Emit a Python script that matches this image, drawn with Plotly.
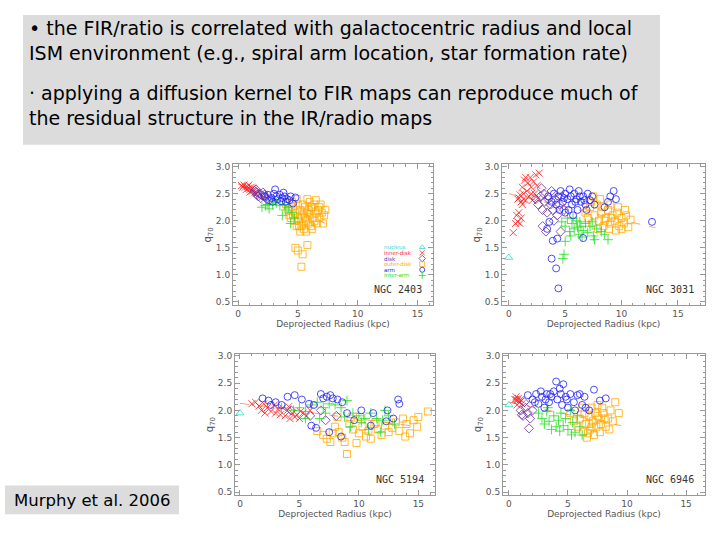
import plotly.graph_objects as go

# categories / legend
categories = ["nucleus", "inner-disk", "disk", "outer-disk", "arm", "inter-arm"]
cat_colors = ["#2fdcc4", "#ff1f1f", "#6b2fa3", "#ffaa00", "#2020ff", "#22dd22"]
cat_symbols = ["triangle-up-open", "x-thin-open", "diamond-open", "square-open", "circle-open", "cross-thin-open"]

galaxies = ["NGC 2403", "NGC 3031", "NGC 5194", "NGC 6946"]

# ---- NGC 2403 ----
ngc2403_inner = [(0.3, 2.65), (0.5, 2.66), (0.6, 2.62), (0.8, 2.63), (0.9, 2.6), (1.0, 2.58), (1.1, 2.62),
                 (1.2, 2.55), (1.3, 2.57), (1.4, 2.52), (0.7, 2.58), (1.0, 2.53), (0.4, 2.62), (1.5, 2.5),
                 (0.9, 2.66), (1.2, 2.6)]
ngc2403_disk = [(1.4, 2.55), (1.6, 2.52), (1.8, 2.5), (2.0, 2.47), (1.7, 2.45), (2.2, 2.48), (1.5, 2.58),
                (1.9, 2.42), (2.3, 2.44), (2.1, 2.52), (2.4, 2.4), (1.6, 2.48)]
ngc2403_arm = [(2.2, 2.45), (2.5, 2.48), (2.8, 2.42), (3.0, 2.5), (3.2, 2.45), (3.1, 2.58), (3.5, 2.48),
               (3.7, 2.42), (3.9, 2.45), (4.1, 2.4), (4.3, 2.38), (2.6, 2.38), (3.3, 2.4), (3.8, 2.52),
               (4.0, 2.35), (4.4, 2.45), (4.8, 2.43), (2.9, 2.35), (3.6, 2.36), (4.6, 2.32)]
ngc2403_inter = [(2.0, 2.25), (2.3, 2.28), (2.6, 2.22), (2.9, 2.3), (3.2, 2.33), (3.5, 2.28), (3.7, 2.1),
                 (3.9, 2.3), (4.2, 2.25), (4.5, 2.15), (4.7, 2.05), (4.4, 1.95), (3.0, 2.38), (4.0, 2.2),
                 (2.5, 2.3)]
ngc2403_outer = [(4.0, 2.3), (4.2, 2.2), (4.3, 2.1), (4.5, 2.35), (4.6, 2.25), (4.7, 2.0), (4.8, 2.15),
                 (4.9, 2.4), (5.0, 2.3), (5.0, 2.05), (5.1, 1.9), (5.2, 2.2), (5.3, 2.1), (5.4, 1.95),
                 (5.4, 2.3), (5.5, 1.85), (5.6, 2.05), (5.6, 2.25), (5.7, 1.8), (5.8, 2.15), (5.9, 1.95),
                 (6.0, 2.35), (6.0, 2.1), (6.1, 1.9), (6.2, 2.25), (6.3, 2.05), (6.4, 2.3), (6.5, 2.15),
                 (6.6, 1.95), (6.7, 2.2), (6.8, 2.05), (6.9, 2.3), (7.0, 2.15), (7.1, 1.95), (7.2, 2.1),
                 (6.5, 2.38), (5.8, 2.4), (5.2, 1.8), (4.9, 1.9), (6.2, 1.85), (5.5, 2.15), (4.4, 2.05),
                 (7.3, 2.2), (6.1, 2.25), (5.7, 2.0), (4.8, 1.5), (5.0, 1.45), (5.4, 1.38), (5.8, 1.55),
                 (5.3, 1.15), (5.1, 2.0), (5.9, 2.2), (6.4, 2.0), (4.6, 2.1), (5.3, 1.9), (6.8, 2.25)]
ngc2403_nucleus = []
ngc2403_fit = [(0.0, 2.68), (7.3, 1.95)]

# ---- NGC 3031 ----
ngc3031_nucleus = [(0.0, 1.32)]
ngc3031_inner = [(0.4, 1.78), (0.6, 1.95), (0.7, 2.1), (0.8, 1.98), (0.9, 2.15), (1.0, 1.95), (1.1, 2.05),
                 (0.9, 2.42), (1.0, 2.48), (1.2, 2.62), (1.3, 2.4), (1.4, 2.75), (1.5, 2.8), (1.6, 2.55),
                 (1.7, 2.7), (1.8, 2.45), (1.9, 2.8), (2.0, 2.62), (2.1, 2.38), (2.2, 2.72), (2.3, 2.5),
                 (2.4, 2.85), (2.5, 2.65), (1.1, 2.35), (1.3, 2.5), (2.6, 2.42), (2.7, 2.88), (1.5, 2.38),
                 (2.0, 2.5), (0.8, 2.4), (1.2, 2.3)]
ngc3031_disk = [(2.4, 2.4), (2.6, 2.3), (2.8, 2.45), (3.0, 2.2), (3.1, 2.5), (3.2, 2.35), (3.4, 2.15),
                (3.5, 2.4), (3.7, 2.3), (3.8, 2.55), (3.9, 2.2), (4.1, 2.4), (4.3, 2.1), (4.5, 2.3),
                (4.7, 2.45), (4.9, 2.2), (3.0, 1.9), (3.3, 1.8), (2.9, 2.6), (4.0, 2.0), (4.6, 1.8)]
ngc3031_arm = [(3.5, 2.45), (3.8, 2.35), (4.0, 2.5), (4.2, 2.3), (4.4, 2.45), (4.6, 2.55), (4.8, 2.35),
               (5.0, 2.5), (5.2, 2.4), (5.4, 2.58), (5.6, 2.3), (5.8, 2.5), (6.0, 2.4), (6.2, 2.55),
               (6.4, 2.35), (6.6, 2.45), (6.8, 2.3), (7.0, 2.5), (7.2, 2.38), (7.4, 2.45), (4.5, 2.2),
               (5.3, 2.2), (6.1, 2.2), (8.8, 2.35), (9.0, 2.45), (9.3, 2.55), (9.5, 2.4), (8.5, 2.25),
               (5.0, 2.15), (6.9, 2.2), (6.6, 1.68), (5.7, 2.1), (3.8, 1.3), (4.2, 1.12), (4.4, 0.75),
               (3.9, 1.63), (4.3, 1.67), (12.7, 1.98), (3.6, 1.98), (3.4, 1.85), (5.5, 2.45), (6.3, 2.45),
               (4.9, 2.42), (5.9, 2.35), (6.7, 2.38), (7.6, 2.3)]
ngc3031_inter = [(4.7, 1.98), (5.0, 1.9), (5.2, 2.05), (5.4, 1.8), (5.6, 1.95), (5.8, 1.85), (6.0, 2.0),
                 (6.2, 1.75), (6.4, 1.9), (6.6, 1.82), (6.8, 1.95), (7.0, 1.78), (7.2, 1.9), (7.5, 1.72),
                 (7.8, 1.85), (8.2, 1.8), (8.5, 1.75), (5.0, 1.62), (4.9, 1.38), (4.8, 1.3), (6.5, 1.7),
                 (7.6, 1.65), (8.8, 1.65), (5.5, 1.72), (6.1, 1.88), (5.7, 2.05), (6.3, 1.98), (7.4, 1.98)]
ngc3031_outer = [(6.8, 2.15), (7.0, 2.05), (7.2, 2.25), (7.4, 1.95), (7.6, 2.1), (7.8, 2.3), (8.0, 2.0),
                 (8.2, 2.15), (8.4, 1.9), (8.6, 2.05), (8.8, 2.2), (9.0, 1.95), (9.2, 2.1), (9.4, 2.0),
                 (9.6, 2.15), (9.8, 1.9), (10.0, 2.05), (10.2, 1.95), (10.4, 2.1), (10.6, 1.88),
                 (10.8, 2.02), (7.5, 2.45), (8.1, 2.4), (9.0, 2.3), (10.3, 2.2), (8.9, 1.85), (7.9, 1.85),
                 (9.5, 1.82), (10.0, 1.85), (7.3, 2.35), (8.3, 2.25), (9.7, 2.25), (8.5, 2.0), (9.1, 2.05)]
ngc3031_fit = [(0.0, 2.5), (13.0, 1.87)]

# ---- NGC 5194 ----
ngc5194_nucleus = [(0.0, 1.95)]
ngc5194_inner = [(1.0, 2.12), (1.3, 2.15), (1.6, 2.08), (1.8, 2.0), (2.0, 2.12), (2.3, 2.05), (2.6, 1.98),
                 (2.9, 2.1), (3.2, 2.02), (3.4, 1.92), (3.6, 2.05), (3.8, 1.9), (4.0, 2.0), (4.2, 1.85),
                 (4.4, 1.95), (4.6, 1.88), (4.8, 1.92), (5.0, 1.85), (5.3, 1.95), (5.6, 1.9), (5.9, 2.0),
                 (2.1, 1.95), (3.0, 1.95), (4.1, 2.07), (5.1, 1.98)]
ngc5194_disk = [(4.3, 2.0), (5.9, 1.9), (7.2, 1.82), (8.1, 1.9), (6.8, 2.0)]
ngc5194_arm = [(1.9, 2.22), (2.4, 2.18), (2.6, 2.1), (3.0, 2.15), (3.5, 2.1), (4.0, 2.25), (4.6, 2.28),
               (5.2, 2.2), (5.8, 2.12), (6.2, 2.1), (6.8, 2.3), (7.0, 2.22), (7.3, 2.25), (7.6, 2.28),
               (7.8, 2.22), (8.2, 2.2), (8.6, 2.15), (9.0, 1.95), (10.2, 2.0), (11.2, 1.95), (12.4, 2.0),
               (13.3, 2.2), (13.4, 2.12), (12.9, 1.85), (9.6, 1.82), (8.5, 1.52), (6.0, 1.72), (6.4, 1.68),
               (7.5, 1.6), (11.0, 1.72), (12.3, 1.8)]
ngc5194_inter = [(3.5, 2.05), (4.5, 2.0), (5.0, 2.05), (5.5, 1.98), (6.0, 2.1), (6.5, 2.15), (7.0, 2.05),
                 (7.5, 2.12), (8.0, 2.1), (8.5, 2.05), (9.0, 2.18), (9.5, 1.95), (10.0, 1.9), (10.5, 1.85),
                 (11.0, 1.95), (11.5, 1.85), (12.0, 1.82), (12.5, 1.9), (13.0, 1.75), (8.8, 1.88),
                 (9.3, 1.7), (10.8, 1.65), (11.8, 1.6), (7.2, 1.95), (6.7, 1.85), (10.2, 1.78), (12.2, 2.0),
                 (5.5, 1.85)]
ngc5194_outer = [(6.5, 1.62), (7.0, 1.55), (7.3, 1.48), (7.6, 1.42), (8.0, 1.7), (8.3, 1.6), (8.6, 1.5),
                 (8.8, 1.42), (9.0, 1.2), (9.2, 1.75), (9.5, 1.65), (9.8, 1.4), (10.0, 1.58), (10.3, 1.7),
                 (10.6, 1.52), (10.8, 1.62), (11.0, 1.48), (11.3, 1.75), (11.6, 1.65), (11.9, 1.55),
                 (12.2, 1.72), (12.5, 1.6), (12.8, 1.68), (13.1, 1.78), (13.4, 1.62), (13.7, 1.85),
                 (14.0, 1.75), (14.3, 1.58), (14.6, 1.82), (14.9, 1.7), (15.8, 1.98), (15.0, 1.88),
                 (13.9, 1.52), (7.8, 1.58), (9.3, 1.85), (8.2, 1.88), (10.1, 1.88), (11.4, 1.78)]
ngc5194_fit = [(0.0, 2.13), (15.0, 1.7)]

# ---- NGC 6946 ----
ngc6946_nucleus = [(0.0, 2.1)]
ngc6946_inner = [(0.5, 2.2), (0.6, 2.25), (0.7, 2.18), (0.8, 2.22), (0.9, 2.15), (1.0, 2.2), (0.7, 2.1),
                 (1.1, 2.12), (0.6, 2.2)]
ngc6946_disk = [(1.0, 2.0), (1.2, 1.9), (1.4, 2.05), (1.6, 1.95), (1.3, 2.15), (1.8, 1.85), (1.7, 1.67),
                (2.0, 2.0), (1.1, 1.92)]
ngc6946_arm = [(1.6, 2.28), (2.0, 2.2), (2.3, 2.3), (2.5, 2.12), (2.8, 2.25), (3.0, 2.05), (3.2, 2.3),
               (3.4, 2.15), (3.6, 2.25), (3.8, 2.35), (4.0, 2.53), (4.1, 2.2), (4.3, 2.4), (4.5, 2.1),
               (4.6, 2.48), (4.8, 2.25), (5.0, 2.05), (5.2, 2.3), (5.5, 2.15), (5.8, 2.28), (6.0, 2.3),
               (6.2, 2.1), (6.5, 2.05), (6.8, 2.0), (7.2, 2.38), (7.7, 2.18), (8.2, 2.22), (3.5, 2.3),
               (2.7, 2.35), (4.9, 2.2), (5.6, 2.0), (6.4, 2.25), (2.2, 2.15), (3.1, 2.2), (4.4, 2.3)]
ngc6946_inter = [(2.5, 1.95), (2.8, 1.85), (3.0, 1.75), (3.2, 1.98), (3.4, 1.8), (3.6, 1.65), (3.8, 1.9),
                 (4.0, 1.7), (4.2, 1.82), (4.4, 1.95), (4.6, 1.72), (4.8, 1.85), (5.0, 1.65), (5.2, 2.0),
                 (5.4, 1.78), (5.6, 1.6), (5.8, 1.9), (6.0, 1.7), (6.2, 1.55), (4.3, 1.62), (3.3, 2.05),
                 (5.3, 1.55)]
ngc6946_outer = [(5.2, 1.95), (5.5, 1.8), (5.8, 1.7), (6.0, 1.85), (6.2, 2.05), (6.3, 1.6), (6.5, 1.75),
                 (6.6, 1.5), (6.8, 1.9), (6.9, 1.65), (7.0, 2.05), (7.1, 1.8), (7.2, 1.55), (7.3, 1.95),
                 (7.4, 1.7), (7.5, 2.1), (7.6, 1.85), (7.7, 1.6), (7.8, 1.75), (8.0, 1.95), (8.2, 1.7),
                 (8.4, 1.85), (8.6, 2.0), (8.8, 1.8), (9.0, 2.15), (9.3, 1.95), (8.5, 1.65), (6.7, 1.58),
                 (7.9, 2.05), (6.4, 1.95), (7.0, 1.7), (7.5, 1.9), (8.1, 1.85), (6.8, 1.75)]
ngc6946_fit = [(0.0, 2.15), (9.5, 1.72)]

panel_data = [
    [ngc2403_nucleus, ngc2403_inner, ngc2403_disk, ngc2403_outer, ngc2403_arm, ngc2403_inter],
    [ngc3031_nucleus, ngc3031_inner, ngc3031_disk, ngc3031_outer, ngc3031_arm, ngc3031_inter],
    [ngc5194_nucleus, ngc5194_inner, ngc5194_disk, ngc5194_outer, ngc5194_arm, ngc5194_inter],
    [ngc6946_nucleus, ngc6946_inner, ngc6946_disk, ngc6946_outer, ngc6946_arm, ngc6946_inter],
]
panel_fits = [ngc2403_fit, ngc3031_fit, ngc5194_fit, ngc6946_fit]

# pixel boxes of each panel frame (left, right, top, bottom) and x ranges
W, H = 720, 540
boxes = [(233, 433, 163, 305), (502, 705, 163, 305), (235, 435, 354, 497), (503, 705, 354, 497)]
xranges = [[-0.42, 16.3], [-0.6, 17.4], [-0.42, 16.4], [-0.5, 16.6]]
yrange = [0.44, 3.04]

fig = go.Figure()

draw_order = [3, 1, 2, 5, 4, 0]
for p in range(4):
    ax = "" if p == 0 else str(p + 1)
    fx, fy = zip(*panel_fits[p])
    fig.add_trace(go.Scatter(x=fx, y=fy, mode="lines", xaxis="x" + ax, yaxis="y" + ax,
                             line=dict(color="#f4a484", width=1, dash="dash"), showlegend=False))
    for c in draw_order:
        pts = panel_data[p][c]
        if not pts:
            continue
        xs, ys = zip(*pts)
        fig.add_trace(go.Scatter(
            x=xs, y=ys, mode="markers", xaxis="x" + ax, yaxis="y" + ax, showlegend=False,
            marker=dict(symbol=cat_symbols[c], size=7, color=cat_colors[c],
                        line=dict(color=cat_colors[c], width=0.8))))

tick_font = dict(family="DejaVu Sans", size=9, color="#555")
for p, (l, r, t, b) in enumerate(boxes):
    ax = "" if p == 0 else str(p + 1)
    fig.layout["xaxis" + ax] = dict(
        domain=[l / W, r / W], range=xranges[p], anchor="y" + ax,
        showgrid=False, zeroline=False, showline=True, linecolor="#999", linewidth=1, mirror="ticks",
        ticks="inside", ticklen=5, tickcolor="#999", dtick=5, tick0=0, tickfont=tick_font,
        minor=dict(ticks="inside", ticklen=2.5, dtick=1, tickcolor="#999"),
        title=dict(text="Deprojected Radius (kpc)", font=dict(family="DejaVu Sans", size=9, color="#555"),
                   standoff=2))
    fig.layout["yaxis" + ax] = dict(
        domain=[1 - b / H, 1 - t / H], range=yrange, anchor="x" + ax,
        showgrid=False, zeroline=False, showline=True, linecolor="#999", linewidth=1, mirror="ticks",
        ticks="inside", ticklen=5, tickcolor="#999", dtick=0.5, tick0=0, tickformat=".1f", tickfont=tick_font,
        minor=dict(ticks="inside", ticklen=2.5, dtick=0.1, tickcolor="#999"),
        title=dict(text="q<sub>70</sub>", font=dict(family="DejaVu Sans", size=10, color="#555"), standoff=2))
    fig.add_annotation(xref="x" + ax + " domain", yref="y" + ax + " domain", x=0.955, y=0.06,
                       text=galaxies[p], showarrow=False, xanchor="right", yanchor="bottom",
                       font=dict(family="DejaVu Sans Mono", size=10, color="#333"))

# legend inside NGC 2403 panel
for i, c in enumerate(categories):
    ly = 1.51 - i * 0.104
    fig.add_annotation(x=12.0, y=ly, xref="x", yref="y", text=c, showarrow=False, xanchor="left",
                       font=dict(family="DejaVu Sans", size=5.5, color=cat_colors[i]))
    fig.add_trace(go.Scatter(x=[15.4], y=[ly], mode="markers", xaxis="x", yaxis="y", showlegend=False,
                             marker=dict(symbol=cat_symbols[i], size=5, color=cat_colors[i],
                                         line=dict(color=cat_colors[i], width=0.8))))

# slide text boxes
slide_font = "Comic Sans MS, DejaVu Sans, sans-serif"
fig.add_shape(type="rect", xref="paper", yref="paper", x0=23 / W, x1=660 / W, y0=1 - 143 / H, y1=1 - 12 / H,
              fillcolor="#dcdcdc", line=dict(width=0), layer="below")
bullet_blocks = [
    ("\u2022 the FIR/ratio is correlated with galactocentric radius and local<br>"
     "ISM environment (e.g., spiral arm location, star formation rate)", 38),
    ("\u00b7 applying a diffusion kernel to FIR maps can reproduce much of<br>"
     "the residual structure in the IR/radio maps", 103),
]
for txt, py in bullet_blocks:
    fig.add_annotation(xref="paper", yref="paper", x=27 / W, y=1 - py / H, text=txt, showarrow=False,
                       xanchor="left", yanchor="middle", align="left",
                       font=dict(family=slide_font, size=19, color="black"))

fig.add_shape(type="rect", xref="paper", yref="paper", x0=5 / W, x1=179 / W, y0=1 - 516 / H, y1=1 - 487 / H,
              fillcolor="#dcdcdc", line=dict(width=0), layer="below")
fig.add_annotation(xref="paper", yref="paper", x=92 / W, y=1 - 502 / H, text="Murphy et al. 2006",
                   showarrow=False, xanchor="center", yanchor="middle",
                   font=dict(family=slide_font, size=16.5, color="black"))

fig.update_layout(width=W, height=H, margin=dict(l=0, r=0, t=0, b=0),
                  paper_bgcolor="white", plot_bgcolor="white", showlegend=False)

fig.write_html("out.html", config={"displayModeBar": False},
               post_script="document.body.style.margin='0';")
